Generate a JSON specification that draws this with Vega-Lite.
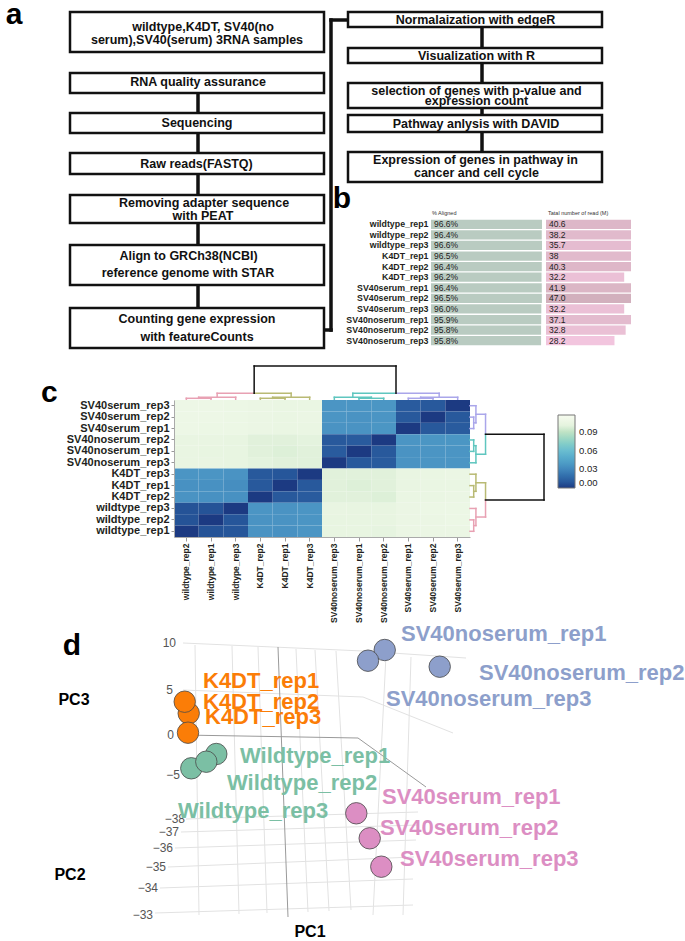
{
  "$schema": "https://vega.github.io/schema/vega-lite/v6.json",
  "padding": 0,
  "background": "white",
  "config": {
    "view": {"stroke": null},
    "font": "Liberation Sans",
    "text": {"font": "Liberation Sans"},
    "title": {"font": "Liberation Sans"},
    "axis": {"labelFont": "Liberation Sans"},
    "legend": {"labelFont": "Liberation Sans"}
  },
  "datasets": {
    "boxes": [
      {"x0": 67, "x1": 321, "y0": 12, "y1": 52},
      {"x0": 67, "x1": 321, "y0": 73, "y1": 93},
      {"x0": 67, "x1": 321, "y0": 113, "y1": 133},
      {"x0": 67, "x1": 321, "y0": 153, "y1": 174},
      {"x0": 67, "x1": 321, "y0": 195, "y1": 223},
      {"x0": 67, "x1": 321, "y0": 245, "y1": 285},
      {"x0": 67, "x1": 321, "y0": 308, "y1": 348},
      {"x0": 345, "x1": 599, "y0": 12, "y1": 27},
      {"x0": 345, "x1": 599, "y0": 48, "y1": 63},
      {"x0": 345, "x1": 599, "y0": 83, "y1": 108},
      {"x0": 345, "x1": 599, "y0": 115, "y1": 132},
      {"x0": 345, "x1": 599, "y0": 152, "y1": 182}
    ],
    "links": [
      {"x0": 195, "x1": 195, "y0": 93, "y1": 113},
      {"x0": 195, "x1": 195, "y0": 133, "y1": 153},
      {"x0": 195, "x1": 195, "y0": 174, "y1": 195},
      {"x0": 195, "x1": 195, "y0": 223, "y1": 245},
      {"x0": 195, "x1": 195, "y0": 285, "y1": 308},
      {"x0": 328, "x1": 328, "y0": 20, "y1": 330},
      {"x0": 321, "x1": 328, "y0": 330, "y1": 330},
      {"x0": 328, "x1": 345, "y0": 20, "y1": 20},
      {"x0": 479, "x1": 479, "y0": 27, "y1": 48},
      {"x0": 479, "x1": 479, "y0": 63, "y1": 83},
      {"x0": 479, "x1": 479, "y0": 108, "y1": 115},
      {"x0": 479, "x1": 479, "y0": 132, "y1": 152}
    ],
    "ftext": [
      {"cx": 200, "cy": 27, "t": "wildtype,K4DT, SV40(no"},
      {"cx": 194, "cy": 39.5, "t": "serum),SV40(serum) 3RNA samples"},
      {"cx": 195, "cy": 82, "t": "RNA quality assurance"},
      {"cx": 194, "cy": 123, "t": "Sequencing"},
      {"cx": 193.5, "cy": 163.5, "t": "Raw reads(FASTQ)"},
      {"cx": 201, "cy": 202.5, "t": "Removing adapter sequence"},
      {"cx": 200, "cy": 215.5, "t": "with PEAT"},
      {"cx": 185.5, "cy": 256, "t": "Align to GRCh38(NCBI)"},
      {"cx": 185, "cy": 272.5, "t": "reference genome with STAR"},
      {"cx": 194, "cy": 318.5, "t": "Counting gene expression"},
      {"cx": 194, "cy": 337, "t": "with featureCounts"},
      {"cx": 472.5, "cy": 20, "t": "Normalaization with edgeR"},
      {"cx": 473.5, "cy": 55.5, "t": "Visualization with R"},
      {"cx": 473.5, "cy": 90.5, "t": "selection of  genes with p-value and"},
      {"cx": 473.5, "cy": 100.5, "t": "expression count"},
      {"cx": 473, "cy": 124, "t": "Pathway anlysis with DAVID"},
      {"cx": 472.5, "cy": 160, "t": "Expression of genes in pathway in"},
      {"cx": 473.5, "cy": 172.5, "t": "cancer and cell cycle"}
    ],
    "letters": [
      {"t": "a", "cx": 11, "cy": 24},
      {"t": "b", "cx": 339, "cy": 208}
    ],
    "tbl": [
      {"s": "wildtype_rep1", "al": 0.966, "rd": 40.6, "rdl": "40.6"},
      {"s": "wildtype_rep2", "al": 0.964, "rd": 38.2, "rdl": "38.2"},
      {"s": "wildtype_rep3", "al": 0.966, "rd": 35.7, "rdl": "35.7"},
      {"s": "K4DT_rep1", "al": 0.965, "rd": 38, "rdl": "38"},
      {"s": "K4DT_rep2", "al": 0.964, "rd": 40.3, "rdl": "40.3"},
      {"s": "K4DT_rep3", "al": 0.962, "rd": 32.2, "rdl": "32.2"},
      {"s": "SV40serum_rep1", "al": 0.964, "rd": 41.9, "rdl": "41.9"},
      {"s": "SV40serum_rep2", "al": 0.965, "rd": 47.0, "rdl": "47.0"},
      {"s": "SV40serum_rep3", "al": 0.960, "rd": 32.2, "rdl": "32.2"},
      {"s": "SV40noserum_rep1", "al": 0.959, "rd": 37.1, "rdl": "37.1"},
      {"s": "SV40noserum_rep2", "al": 0.958, "rd": 32.8, "rdl": "32.8"},
      {"s": "SV40noserum_rep3", "al": 0.958, "rd": 28.2, "rdl": "28.2"}
    ],
    "heat": [
      {"r": "SV40serum_rep3", "c": "wildtype_rep2", "v": 0.108},
      {"r": "SV40serum_rep3", "c": "wildtype_rep1", "v": 0.108},
      {"r": "SV40serum_rep3", "c": "wildtype_rep3", "v": 0.107},
      {"r": "SV40serum_rep3", "c": "K4DT_rep2", "v": 0.106},
      {"r": "SV40serum_rep3", "c": "K4DT_rep1", "v": 0.105},
      {"r": "SV40serum_rep3", "c": "K4DT_rep3", "v": 0.105},
      {"r": "SV40serum_rep3", "c": "SV40noserum_rep3", "v": 0.036},
      {"r": "SV40serum_rep3", "c": "SV40noserum_rep1", "v": 0.036},
      {"r": "SV40serum_rep3", "c": "SV40noserum_rep2", "v": 0.037},
      {"r": "SV40serum_rep3", "c": "SV40serum_rep1", "v": 0.011},
      {"r": "SV40serum_rep3", "c": "SV40serum_rep2", "v": 0.010},
      {"r": "SV40serum_rep3", "c": "SV40serum_rep3", "v": 0.0},
      {"r": "SV40serum_rep2", "c": "wildtype_rep2", "v": 0.108},
      {"r": "SV40serum_rep2", "c": "wildtype_rep1", "v": 0.108},
      {"r": "SV40serum_rep2", "c": "wildtype_rep3", "v": 0.107},
      {"r": "SV40serum_rep2", "c": "K4DT_rep2", "v": 0.106},
      {"r": "SV40serum_rep2", "c": "K4DT_rep1", "v": 0.105},
      {"r": "SV40serum_rep2", "c": "K4DT_rep3", "v": 0.106},
      {"r": "SV40serum_rep2", "c": "SV40noserum_rep3", "v": 0.036},
      {"r": "SV40serum_rep2", "c": "SV40noserum_rep1", "v": 0.035},
      {"r": "SV40serum_rep2", "c": "SV40noserum_rep2", "v": 0.036},
      {"r": "SV40serum_rep2", "c": "SV40serum_rep1", "v": 0.010},
      {"r": "SV40serum_rep2", "c": "SV40serum_rep2", "v": 0.0},
      {"r": "SV40serum_rep2", "c": "SV40serum_rep3", "v": 0.010},
      {"r": "SV40serum_rep1", "c": "wildtype_rep2", "v": 0.108},
      {"r": "SV40serum_rep1", "c": "wildtype_rep1", "v": 0.107},
      {"r": "SV40serum_rep1", "c": "wildtype_rep3", "v": 0.107},
      {"r": "SV40serum_rep1", "c": "K4DT_rep2", "v": 0.106},
      {"r": "SV40serum_rep1", "c": "K4DT_rep1", "v": 0.105},
      {"r": "SV40serum_rep1", "c": "K4DT_rep3", "v": 0.105},
      {"r": "SV40serum_rep1", "c": "SV40noserum_rep3", "v": 0.035},
      {"r": "SV40serum_rep1", "c": "SV40noserum_rep1", "v": 0.035},
      {"r": "SV40serum_rep1", "c": "SV40noserum_rep2", "v": 0.037},
      {"r": "SV40serum_rep1", "c": "SV40serum_rep1", "v": 0.0},
      {"r": "SV40serum_rep1", "c": "SV40serum_rep2", "v": 0.010},
      {"r": "SV40serum_rep1", "c": "SV40serum_rep3", "v": 0.011},
      {"r": "SV40noserum_rep2", "c": "wildtype_rep2", "v": 0.104},
      {"r": "SV40noserum_rep2", "c": "wildtype_rep1", "v": 0.104},
      {"r": "SV40noserum_rep2", "c": "wildtype_rep3", "v": 0.103},
      {"r": "SV40noserum_rep2", "c": "K4DT_rep2", "v": 0.099},
      {"r": "SV40noserum_rep2", "c": "K4DT_rep1", "v": 0.099},
      {"r": "SV40noserum_rep2", "c": "K4DT_rep3", "v": 0.100},
      {"r": "SV40noserum_rep2", "c": "SV40noserum_rep3", "v": 0.010},
      {"r": "SV40noserum_rep2", "c": "SV40noserum_rep1", "v": 0.011},
      {"r": "SV40noserum_rep2", "c": "SV40noserum_rep2", "v": 0.0},
      {"r": "SV40noserum_rep2", "c": "SV40serum_rep1", "v": 0.036},
      {"r": "SV40noserum_rep2", "c": "SV40serum_rep2", "v": 0.037},
      {"r": "SV40noserum_rep2", "c": "SV40serum_rep3", "v": 0.037},
      {"r": "SV40noserum_rep1", "c": "wildtype_rep2", "v": 0.104},
      {"r": "SV40noserum_rep1", "c": "wildtype_rep1", "v": 0.103},
      {"r": "SV40noserum_rep1", "c": "wildtype_rep3", "v": 0.103},
      {"r": "SV40noserum_rep1", "c": "K4DT_rep2", "v": 0.099},
      {"r": "SV40noserum_rep1", "c": "K4DT_rep1", "v": 0.098},
      {"r": "SV40noserum_rep1", "c": "K4DT_rep3", "v": 0.099},
      {"r": "SV40noserum_rep1", "c": "SV40noserum_rep3", "v": 0.011},
      {"r": "SV40noserum_rep1", "c": "SV40noserum_rep1", "v": 0.0},
      {"r": "SV40noserum_rep1", "c": "SV40noserum_rep2", "v": 0.010},
      {"r": "SV40noserum_rep1", "c": "SV40serum_rep1", "v": 0.035},
      {"r": "SV40noserum_rep1", "c": "SV40serum_rep2", "v": 0.036},
      {"r": "SV40noserum_rep1", "c": "SV40serum_rep3", "v": 0.036},
      {"r": "SV40noserum_rep3", "c": "wildtype_rep2", "v": 0.104},
      {"r": "SV40noserum_rep3", "c": "wildtype_rep1", "v": 0.104},
      {"r": "SV40noserum_rep3", "c": "wildtype_rep3", "v": 0.103},
      {"r": "SV40noserum_rep3", "c": "K4DT_rep2", "v": 0.100},
      {"r": "SV40noserum_rep3", "c": "K4DT_rep1", "v": 0.099},
      {"r": "SV40noserum_rep3", "c": "K4DT_rep3", "v": 0.099},
      {"r": "SV40noserum_rep3", "c": "SV40noserum_rep3", "v": 0.0},
      {"r": "SV40noserum_rep3", "c": "SV40noserum_rep1", "v": 0.010},
      {"r": "SV40noserum_rep3", "c": "SV40noserum_rep2", "v": 0.011},
      {"r": "SV40noserum_rep3", "c": "SV40serum_rep1", "v": 0.035},
      {"r": "SV40noserum_rep3", "c": "SV40serum_rep2", "v": 0.036},
      {"r": "SV40noserum_rep3", "c": "SV40serum_rep3", "v": 0.036},
      {"r": "K4DT_rep3", "c": "wildtype_rep2", "v": 0.036},
      {"r": "K4DT_rep3", "c": "wildtype_rep1", "v": 0.036},
      {"r": "K4DT_rep3", "c": "wildtype_rep3", "v": 0.035},
      {"r": "K4DT_rep3", "c": "K4DT_rep2", "v": 0.010},
      {"r": "K4DT_rep3", "c": "K4DT_rep1", "v": 0.009},
      {"r": "K4DT_rep3", "c": "K4DT_rep3", "v": 0.0},
      {"r": "K4DT_rep3", "c": "SV40noserum_rep3", "v": 0.099},
      {"r": "K4DT_rep3", "c": "SV40noserum_rep1", "v": 0.099},
      {"r": "K4DT_rep3", "c": "SV40noserum_rep2", "v": 0.099},
      {"r": "K4DT_rep3", "c": "SV40serum_rep1", "v": 0.104},
      {"r": "K4DT_rep3", "c": "SV40serum_rep2", "v": 0.105},
      {"r": "K4DT_rep3", "c": "SV40serum_rep3", "v": 0.106},
      {"r": "K4DT_rep1", "c": "wildtype_rep2", "v": 0.034},
      {"r": "K4DT_rep1", "c": "wildtype_rep1", "v": 0.034},
      {"r": "K4DT_rep1", "c": "wildtype_rep3", "v": 0.033},
      {"r": "K4DT_rep1", "c": "K4DT_rep2", "v": 0.010},
      {"r": "K4DT_rep1", "c": "K4DT_rep1", "v": 0.0},
      {"r": "K4DT_rep1", "c": "K4DT_rep3", "v": 0.010},
      {"r": "K4DT_rep1", "c": "SV40noserum_rep3", "v": 0.099},
      {"r": "K4DT_rep1", "c": "SV40noserum_rep1", "v": 0.098},
      {"r": "K4DT_rep1", "c": "SV40noserum_rep2", "v": 0.099},
      {"r": "K4DT_rep1", "c": "SV40serum_rep1", "v": 0.104},
      {"r": "K4DT_rep1", "c": "SV40serum_rep2", "v": 0.105},
      {"r": "K4DT_rep1", "c": "SV40serum_rep3", "v": 0.105},
      {"r": "K4DT_rep2", "c": "wildtype_rep2", "v": 0.035},
      {"r": "K4DT_rep2", "c": "wildtype_rep1", "v": 0.034},
      {"r": "K4DT_rep2", "c": "wildtype_rep3", "v": 0.034},
      {"r": "K4DT_rep2", "c": "K4DT_rep2", "v": 0.0},
      {"r": "K4DT_rep2", "c": "K4DT_rep1", "v": 0.010},
      {"r": "K4DT_rep2", "c": "K4DT_rep3", "v": 0.011},
      {"r": "K4DT_rep2", "c": "SV40noserum_rep3", "v": 0.099},
      {"r": "K4DT_rep2", "c": "SV40noserum_rep1", "v": 0.099},
      {"r": "K4DT_rep2", "c": "SV40noserum_rep2", "v": 0.098},
      {"r": "K4DT_rep2", "c": "SV40serum_rep1", "v": 0.105},
      {"r": "K4DT_rep2", "c": "SV40serum_rep2", "v": 0.105},
      {"r": "K4DT_rep2", "c": "SV40serum_rep3", "v": 0.106},
      {"r": "wildtype_rep3", "c": "wildtype_rep2", "v": 0.008},
      {"r": "wildtype_rep3", "c": "wildtype_rep1", "v": 0.008},
      {"r": "wildtype_rep3", "c": "wildtype_rep3", "v": 0.0},
      {"r": "wildtype_rep3", "c": "K4DT_rep2", "v": 0.036},
      {"r": "wildtype_rep3", "c": "K4DT_rep1", "v": 0.035},
      {"r": "wildtype_rep3", "c": "K4DT_rep3", "v": 0.036},
      {"r": "wildtype_rep3", "c": "SV40noserum_rep3", "v": 0.104},
      {"r": "wildtype_rep3", "c": "SV40noserum_rep1", "v": 0.103},
      {"r": "wildtype_rep3", "c": "SV40noserum_rep2", "v": 0.103},
      {"r": "wildtype_rep3", "c": "SV40serum_rep1", "v": 0.106},
      {"r": "wildtype_rep3", "c": "SV40serum_rep2", "v": 0.107},
      {"r": "wildtype_rep3", "c": "SV40serum_rep3", "v": 0.107},
      {"r": "wildtype_rep2", "c": "wildtype_rep2", "v": 0.008},
      {"r": "wildtype_rep2", "c": "wildtype_rep1", "v": 0.0},
      {"r": "wildtype_rep2", "c": "wildtype_rep3", "v": 0.009},
      {"r": "wildtype_rep2", "c": "K4DT_rep2", "v": 0.035},
      {"r": "wildtype_rep2", "c": "K4DT_rep1", "v": 0.035},
      {"r": "wildtype_rep2", "c": "K4DT_rep3", "v": 0.036},
      {"r": "wildtype_rep2", "c": "SV40noserum_rep3", "v": 0.103},
      {"r": "wildtype_rep2", "c": "SV40noserum_rep1", "v": 0.103},
      {"r": "wildtype_rep2", "c": "SV40noserum_rep2", "v": 0.103},
      {"r": "wildtype_rep2", "c": "SV40serum_rep1", "v": 0.106},
      {"r": "wildtype_rep2", "c": "SV40serum_rep2", "v": 0.106},
      {"r": "wildtype_rep2", "c": "SV40serum_rep3", "v": 0.107},
      {"r": "wildtype_rep1", "c": "wildtype_rep2", "v": 0.0},
      {"r": "wildtype_rep1", "c": "wildtype_rep1", "v": 0.008},
      {"r": "wildtype_rep1", "c": "wildtype_rep3", "v": 0.009},
      {"r": "wildtype_rep1", "c": "K4DT_rep2", "v": 0.035},
      {"r": "wildtype_rep1", "c": "K4DT_rep1", "v": 0.034},
      {"r": "wildtype_rep1", "c": "K4DT_rep3", "v": 0.036},
      {"r": "wildtype_rep1", "c": "SV40noserum_rep3", "v": 0.103},
      {"r": "wildtype_rep1", "c": "SV40noserum_rep1", "v": 0.103},
      {"r": "wildtype_rep1", "c": "SV40noserum_rep2", "v": 0.102},
      {"r": "wildtype_rep1", "c": "SV40serum_rep1", "v": 0.106},
      {"r": "wildtype_rep1", "c": "SV40serum_rep2", "v": 0.106},
      {"r": "wildtype_rep1", "c": "SV40serum_rep3", "v": 0.106}
    ],
    "dtop": [
      {"p": 0.5, "p2": 0.5, "h": 0, "h2": 0.005, "g": "W"},
      {"p": 1.5, "p2": 1.5, "h": 0, "h2": 0.005, "g": "W"},
      {"p": 0.5, "p2": 1.5, "h": 0.005, "h2": 0.005, "g": "W"},
      {"p": 1.0, "p2": 1.0, "h": 0.005, "h2": 0.008, "g": "W"},
      {"p": 2.5, "p2": 2.5, "h": 0, "h2": 0.008, "g": "W"},
      {"p": 1.0, "p2": 2.5, "h": 0.008, "h2": 0.008, "g": "W"},
      {"p": 1.75, "p2": 1.75, "h": 0.008, "h2": 0.02, "g": "W"},
      {"p": 1.75, "p2": 3.25, "h": 0.02, "h2": 0.02, "g": "W"},
      {"p": 3.5, "p2": 3.5, "h": 0, "h2": 0.005, "g": "K"},
      {"p": 4.5, "p2": 4.5, "h": 0, "h2": 0.005, "g": "K"},
      {"p": 3.5, "p2": 4.5, "h": 0.005, "h2": 0.005, "g": "K"},
      {"p": 4.0, "p2": 4.0, "h": 0.005, "h2": 0.008, "g": "K"},
      {"p": 5.5, "p2": 5.5, "h": 0, "h2": 0.008, "g": "K"},
      {"p": 4.0, "p2": 5.5, "h": 0.008, "h2": 0.008, "g": "K"},
      {"p": 4.75, "p2": 4.75, "h": 0.008, "h2": 0.02, "g": "K"},
      {"p": 3.25, "p2": 4.75, "h": 0.02, "h2": 0.02, "g": "K"},
      {"p": 7.5, "p2": 7.5, "h": 0, "h2": 0.005, "g": "N"},
      {"p": 8.5, "p2": 8.5, "h": 0, "h2": 0.005, "g": "N"},
      {"p": 7.5, "p2": 8.5, "h": 0.005, "h2": 0.005, "g": "N"},
      {"p": 8.0, "p2": 8.0, "h": 0.005, "h2": 0.008, "g": "N"},
      {"p": 6.5, "p2": 6.5, "h": 0, "h2": 0.008, "g": "N"},
      {"p": 6.5, "p2": 8.0, "h": 0.008, "h2": 0.008, "g": "N"},
      {"p": 7.25, "p2": 7.25, "h": 0.008, "h2": 0.02, "g": "N"},
      {"p": 7.25, "p2": 9.0, "h": 0.02, "h2": 0.02, "g": "N"},
      {"p": 9.5, "p2": 9.5, "h": 0, "h2": 0.005, "g": "S"},
      {"p": 10.5, "p2": 10.5, "h": 0, "h2": 0.005, "g": "S"},
      {"p": 9.5, "p2": 10.5, "h": 0.005, "h2": 0.005, "g": "S"},
      {"p": 10.0, "p2": 10.0, "h": 0.005, "h2": 0.008, "g": "S"},
      {"p": 11.5, "p2": 11.5, "h": 0, "h2": 0.008, "g": "S"},
      {"p": 10.0, "p2": 11.5, "h": 0.008, "h2": 0.008, "g": "S"},
      {"p": 10.75, "p2": 10.75, "h": 0.008, "h2": 0.02, "g": "S"},
      {"p": 9.0, "p2": 10.75, "h": 0.02, "h2": 0.02, "g": "S"},
      {"p": 3.25, "p2": 3.25, "h": 0.02, "h2": 0.1, "g": "R"},
      {"p": 9.0, "p2": 9.0, "h": 0.02, "h2": 0.1, "g": "R"},
      {"p": 3.25, "p2": 9.0, "h": 0.1, "h2": 0.1, "g": "R"}
    ],
    "dright": [
      {"p": 1.5, "p2": 1.5, "h": 0, "h2": 0.005, "g": "S"},
      {"p": 2.5, "p2": 2.5, "h": 0, "h2": 0.005, "g": "S"},
      {"p": 1.5, "p2": 2.5, "h": 0.005, "h2": 0.005, "g": "S"},
      {"p": 2.0, "p2": 2.0, "h": 0.005, "h2": 0.008, "g": "S"},
      {"p": 0.5, "p2": 0.5, "h": 0, "h2": 0.008, "g": "S"},
      {"p": 0.5, "p2": 2.0, "h": 0.008, "h2": 0.008, "g": "S"},
      {"p": 1.25, "p2": 1.25, "h": 0.008, "h2": 0.021, "g": "S"},
      {"p": 1.25, "p2": 3.0, "h": 0.021, "h2": 0.021, "g": "S"},
      {"p": 3.5, "p2": 3.5, "h": 0, "h2": 0.005, "g": "N"},
      {"p": 4.5, "p2": 4.5, "h": 0, "h2": 0.005, "g": "N"},
      {"p": 3.5, "p2": 4.5, "h": 0.005, "h2": 0.005, "g": "N"},
      {"p": 4.0, "p2": 4.0, "h": 0.005, "h2": 0.008, "g": "N"},
      {"p": 5.5, "p2": 5.5, "h": 0, "h2": 0.008, "g": "N"},
      {"p": 4.0, "p2": 5.5, "h": 0.008, "h2": 0.008, "g": "N"},
      {"p": 4.75, "p2": 4.75, "h": 0.008, "h2": 0.021, "g": "N"},
      {"p": 3.0, "p2": 4.75, "h": 0.021, "h2": 0.021, "g": "N"},
      {"p": 7.5, "p2": 7.5, "h": 0, "h2": 0.005, "g": "K"},
      {"p": 8.5, "p2": 8.5, "h": 0, "h2": 0.005, "g": "K"},
      {"p": 7.5, "p2": 8.5, "h": 0.005, "h2": 0.005, "g": "K"},
      {"p": 8.0, "p2": 8.0, "h": 0.005, "h2": 0.008, "g": "K"},
      {"p": 6.5, "p2": 6.5, "h": 0, "h2": 0.008, "g": "K"},
      {"p": 6.5, "p2": 8.0, "h": 0.008, "h2": 0.008, "g": "K"},
      {"p": 7.25, "p2": 7.25, "h": 0.008, "h2": 0.021, "g": "K"},
      {"p": 7.25, "p2": 8.75, "h": 0.021, "h2": 0.021, "g": "K"},
      {"p": 10.5, "p2": 10.5, "h": 0, "h2": 0.005, "g": "W"},
      {"p": 11.5, "p2": 11.5, "h": 0, "h2": 0.005, "g": "W"},
      {"p": 10.5, "p2": 11.5, "h": 0.005, "h2": 0.005, "g": "W"},
      {"p": 11.0, "p2": 11.0, "h": 0.005, "h2": 0.008, "g": "W"},
      {"p": 9.5, "p2": 9.5, "h": 0, "h2": 0.008, "g": "W"},
      {"p": 9.5, "p2": 11.0, "h": 0.008, "h2": 0.008, "g": "W"},
      {"p": 10.25, "p2": 10.25, "h": 0.008, "h2": 0.021, "g": "W"},
      {"p": 8.75, "p2": 10.25, "h": 0.021, "h2": 0.021, "g": "W"},
      {"p": 3.0, "p2": 3.0, "h": 0.021, "h2": 0.1, "g": "R"},
      {"p": 8.75, "p2": 8.75, "h": 0.021, "h2": 0.1, "g": "R"},
      {"p": 3.0, "p2": 8.75, "h": 0.1, "h2": 0.1, "g": "R"}
    ],
    "pca": [
      {"n": "K4DT_rep2", "g": "K4DT", "sx": 185.7, "sy": 713.3, "lx": 200, "ly": 709},
      {"n": "K4DT_rep1", "g": "K4DT", "sx": 181.7, "sy": 701.7, "lx": 200, "ly": 688},
      {"n": "K4DT_rep3", "g": "K4DT", "sx": 185, "sy": 732.7, "lx": 202, "ly": 724},
      {"n": "Wildtype_rep1", "g": "Wildtype", "sx": 213.3, "sy": 754, "lx": 237, "ly": 763},
      {"n": "Wildtype_rep3", "g": "Wildtype", "sx": 188.3, "sy": 768.3, "lx": 175, "ly": 818},
      {"n": "Wildtype_rep2", "g": "Wildtype", "sx": 203.3, "sy": 761.7, "lx": 224, "ly": 790},
      {"n": "SV40noserum_rep1", "g": "SV40noserum", "sx": 381.7, "sy": 650, "lx": 398, "ly": 641},
      {"n": "SV40noserum_rep2", "g": "SV40noserum", "sx": 436.7, "sy": 666.7, "lx": 476, "ly": 680},
      {"n": "SV40noserum_rep3", "g": "SV40noserum", "sx": 365, "sy": 660.7, "lx": 383, "ly": 706},
      {"n": "SV40serum_rep1", "g": "SV40serum", "sx": 353.3, "sy": 813.3, "lx": 379, "ly": 804},
      {"n": "SV40serum_rep2", "g": "SV40serum", "sx": 366.7, "sy": 838.3, "lx": 377, "ly": 835},
      {"n": "SV40serum_rep3", "g": "SV40serum", "sx": 378.3, "sy": 866.7, "lx": 397, "ly": 866}
    ],
    "gridLight": [
      {"x0": 180, "y0": 643, "x1": 360, "y1": 651},
      {"x0": 360, "y0": 651, "x1": 463, "y1": 658},
      {"x0": 180, "y0": 690, "x1": 360, "y1": 697},
      {"x0": 360, "y0": 697, "x1": 450, "y1": 733},
      {"x0": 192, "y0": 645, "x1": 196, "y1": 915},
      {"x0": 229, "y0": 646, "x1": 236, "y1": 914},
      {"x0": 255, "y0": 647, "x1": 264, "y1": 913},
      {"x0": 293, "y0": 649, "x1": 305, "y1": 912},
      {"x0": 312, "y0": 650, "x1": 326, "y1": 911},
      {"x0": 333, "y0": 651, "x1": 348, "y1": 910},
      {"x0": 383, "y0": 655, "x1": 370, "y1": 915},
      {"x0": 408, "y0": 657, "x1": 400, "y1": 915},
      {"x0": 183, "y0": 819, "x1": 415, "y1": 812},
      {"x0": 178, "y0": 832, "x1": 415, "y1": 825},
      {"x0": 172, "y0": 848, "x1": 413, "y1": 840},
      {"x0": 165, "y0": 867, "x1": 411, "y1": 857},
      {"x0": 157, "y0": 888, "x1": 410, "y1": 879},
      {"x0": 152, "y0": 913, "x1": 410, "y1": 905}
    ],
    "gridDark": [
      {"x0": 180, "y0": 735, "x1": 355, "y1": 738},
      {"x0": 355, "y0": 738, "x1": 423, "y1": 787},
      {"x0": 275, "y0": 647, "x1": 285, "y1": 917}
    ],
    "ticks3d": [
      {"t": "10", "sx": 173, "sy": 643},
      {"t": "5", "sx": 170, "sy": 690},
      {"t": "0", "sx": 171, "sy": 735},
      {"t": "−5", "sx": 177, "sy": 775},
      {"t": "−38", "sx": 182, "sy": 819},
      {"t": "−37", "sx": 176, "sy": 832},
      {"t": "−36", "sx": 170, "sy": 848},
      {"t": "−35", "sx": 163, "sy": 867},
      {"t": "−34", "sx": 155, "sy": 888},
      {"t": "−33", "sx": 150, "sy": 915}
    ],
    "axes3d": [
      {"t": "PC3", "sx": 71, "sy": 700},
      {"t": "PC2", "sx": 67, "sy": 875},
      {"t": "PC1", "sx": 307, "sy": 932}
    ]
  },
  "spacing": 0,
  "bounds": "flush",
  "resolve": {"scale": {"color": "independent"}, "legend": {"color": "independent"}},
  "vconcat": [
    {
      "width": 685,
      "height": 219,
      "layer": [
        {
          "data": {"name": "links"},
          "mark": {"type": "rule", "stroke": "#111111", "strokeWidth": 3.5, "strokeCap": "square"},
          "encoding": {
            "x": {"field": "x0", "type": "quantitative", "scale": {"domain": [0, 685], "nice": false, "zero": false}, "axis": null},
            "x2": {"field": "x1"},
            "y": {"field": "y0", "type": "quantitative", "scale": {"domain": [0, 219], "nice": false, "zero": false, "reverse": true}, "axis": null},
            "y2": {"field": "y1"}
          }
        },
        {
          "data": {"name": "boxes"},
          "mark": {"type": "rect", "fill": "white", "stroke": "#111111", "strokeWidth": 2.5},
          "encoding": {
            "x": {"field": "x0", "type": "quantitative", "scale": {"domain": [0, 685], "nice": false, "zero": false}, "axis": null},
            "x2": {"field": "x1"},
            "y": {"field": "y0", "type": "quantitative", "scale": {"domain": [0, 219], "nice": false, "zero": false, "reverse": true}, "axis": null},
            "y2": {"field": "y1"}
          }
        },
        {
          "data": {"name": "ftext"},
          "mark": {"type": "text", "fontSize": 12.5, "fontWeight": "bold", "fill": "#111111", "align": "center", "baseline": "middle"},
          "encoding": {
            "x": {"field": "cx", "type": "quantitative", "scale": {"domain": [0, 685], "nice": false, "zero": false}, "axis": null},
            "y": {"field": "cy", "type": "quantitative", "scale": {"domain": [0, 219], "nice": false, "zero": false, "reverse": true}, "axis": null},
            "text": {"field": "t"}
          }
        },
        {
          "data": {"name": "letters"},
          "mark": {"type": "text", "fontSize": 30, "fontWeight": "bold", "fill": "#000000", "align": "center", "baseline": "alphabetic"},
          "encoding": {
            "x": {"field": "cx", "type": "quantitative", "scale": {"domain": [0, 685], "nice": false, "zero": false}, "axis": null},
            "y": {"field": "cy", "type": "quantitative", "scale": {"domain": [0, 219], "nice": false, "zero": false, "reverse": true}, "axis": null},
            "text": {"field": "t"}
          }
        }
      ]
    },
    {
      "spacing": 4,
      "bounds": "flush",
      "resolve": {"scale": {"color": "independent"}, "legend": {"color": "independent"}},
      "hconcat": [
        {
          "width": 424,
          "height": 127,
          "data": {"values": [{}]},
          "mark": {"type": "point", "opacity": 0},
          "encoding": {}
        },
        {
          "width": 111,
          "height": 127,
          "data": {"name": "tbl"},
          "title": {"text": "% Aligned", "anchor": "start", "orient": "top", "frame": "group", "offset": 3, "fontSize": 5.5, "fontWeight": "normal", "color": "#333333", "dx": 1},
          "encoding": {
            "y": {"field": "s", "type": "nominal", "sort": null, "scale": {"paddingInner": 0.12, "paddingOuter": 0.06}, "axis": {"title": null, "ticks": false, "domain": false, "labelFontSize": 8.8, "labelFontWeight": "bold", "labelColor": "#231f20", "labelPadding": 3}}
          },
          "layer": [
            {
              "mark": {"type": "bar", "color": "#b9cbc1"},
              "encoding": {"x": {"field": "al", "type": "quantitative", "scale": {"domain": [0, 0.966], "nice": false}, "axis": null}}
            },
            {
              "mark": {"type": "text", "align": "left", "baseline": "middle", "dx": 3, "fontSize": 8.5, "color": "#222222"},
              "encoding": {"x": {"datum": 0, "type": "quantitative"}, "text": {"field": "al", "type": "quantitative", "format": ".1%"}}
            }
          ]
        },
        {
          "width": 85,
          "height": 127,
          "data": {"name": "tbl"},
          "title": {"text": "Tatal number of read (M)", "anchor": "start", "orient": "top", "frame": "group", "offset": 3, "fontSize": 5.5, "fontWeight": "normal", "color": "#333333", "dx": 2},
          "encoding": {
            "y": {"field": "s", "type": "nominal", "sort": null, "scale": {"paddingInner": 0.12, "paddingOuter": 0.06}, "axis": null}
          },
          "layer": [
            {
              "mark": {"type": "bar"},
              "encoding": {
                "x": {"field": "rd", "type": "quantitative", "scale": {"domain": [0, 35], "clamp": true, "nice": false}, "axis": null},
                "color": {"field": "rd", "type": "quantitative", "scale": {"domain": [28, 47], "range": ["#f2c5de", "#d2b0bd"]}, "legend": null}
              }
            },
            {
              "mark": {"type": "text", "align": "left", "baseline": "middle", "dx": 3, "fontSize": 8.5, "color": "#222222"},
              "encoding": {"x": {"datum": 0, "type": "quantitative"}, "text": {"field": "rdl"}}
            }
          ]
        }
      ]
    },
    {
      "width": 1,
      "height": 133,
      "data": {"values": [{}]},
      "mark": {"type": "point", "opacity": 0},
      "encoding": {}
    },
    {
      "spacing": 0,
      "bounds": "flush",
      "resolve": {"scale": {"color": "independent"}, "legend": {"color": "independent"}},
      "hconcat": [
        {
          "width": 171,
          "height": 48,
          "title": {"text": "c", "anchor": "start", "orient": "bottom", "frame": "group", "offset": 2, "baseline": "alphabetic", "fontSize": 30, "fontWeight": "bold", "color": "#000000", "dx": 38},
          "data": {"values": [{}]},
          "mark": {"type": "point", "opacity": 0},
          "encoding": {}
        },
        {
          "width": 296,
          "height": 48,
          "data": {"name": "dtop"},
          "mark": {"type": "rule", "strokeWidth": 1.5, "strokeCap": "square"},
          "encoding": {
            "x": {"field": "p", "type": "quantitative", "scale": {"domain": [0, 12], "nice": false, "zero": false}, "axis": null},
            "x2": {"field": "p2"},
            "y": {"field": "h", "type": "quantitative", "scale": {"domain": [0, 0.141], "nice": false}, "axis": null},
            "y2": {"field": "h2"},
            "color": {"field": "g", "type": "nominal", "scale": {"domain": ["W", "K", "N", "S", "R"], "range": ["#e8a1b3", "#b9ba74", "#5fc6bf", "#aaa6ea", "#111111"]}, "legend": null}
          }
        }
      ]
    },
    {
      "width": 1,
      "height": 48,
      "data": {"values": [{}]},
      "mark": {"type": "point", "opacity": 0},
      "encoding": {}
    },
    {
      "spacing": 0,
      "bounds": "flush",
      "resolve": {"scale": {"color": "independent"}, "legend": {"color": "independent"}},
      "hconcat": [
        {
          "width": 171,
          "height": 137,
          "data": {"values": [{}]},
          "mark": {"type": "point", "opacity": 0},
          "encoding": {}
        },
        {
          "width": 296,
          "height": 137,
          "data": {"name": "heat"},
          "mark": {"type": "rect"},
          "encoding": {
            "x": {
              "field": "c", "type": "nominal",
              "scale": {"domain": ["wildtype_rep2", "wildtype_rep1", "wildtype_rep3", "K4DT_rep2", "K4DT_rep1", "K4DT_rep3", "SV40noserum_rep3", "SV40noserum_rep1", "SV40noserum_rep2", "SV40serum_rep1", "SV40serum_rep2", "SV40serum_rep3"], "paddingInner": 0, "paddingOuter": 0},
              "axis": {"title": null, "orient": "bottom", "labelAngle": 270, "labelFontSize": 8.5, "labelFontWeight": "bold", "labelColor": "#231f20", "tickSize": 4, "tickColor": "#999999", "domainColor": "#aaaaaa", "labelPadding": 2}
            },
            "y": {
              "field": "r", "type": "nominal",
              "scale": {"domain": ["SV40serum_rep3", "SV40serum_rep2", "SV40serum_rep1", "SV40noserum_rep2", "SV40noserum_rep1", "SV40noserum_rep3", "K4DT_rep3", "K4DT_rep1", "K4DT_rep2", "wildtype_rep3", "wildtype_rep2", "wildtype_rep1"], "paddingInner": 0, "paddingOuter": 0},
              "axis": {"title": null, "labelFontSize": 11, "labelFontWeight": "bold", "labelColor": "#231f20", "tickSize": 3, "tickColor": "#999999", "domainColor": "#aaaaaa", "labelPadding": 2}
            },
            "color": {
              "field": "v", "type": "quantitative",
              "scale": {"domain": [0, 0.01, 0.035, 0.06, 0.09, 0.1, 0.117], "range": ["#1c3a82", "#28599c", "#4a93c3", "#6abdd0", "#c0e3c5", "#e4f3de", "#f7fcf0"]},
              "legend": null
            }
          }
        },
        {
          "width": 74,
          "height": 137,
          "data": {"name": "dright"},
          "mark": {"type": "rule", "strokeWidth": 1.5, "strokeCap": "square"},
          "encoding": {
            "x": {"field": "h", "type": "quantitative", "scale": {"domain": [0, 0.1], "nice": false}, "axis": null},
            "x2": {"field": "h2"},
            "y": {"field": "p", "type": "quantitative", "scale": {"domain": [0, 12], "nice": false, "zero": false, "reverse": true}, "axis": null},
            "y2": {"field": "p2"},
            "color": {"field": "g", "type": "nominal", "scale": {"domain": ["W", "K", "N", "S", "R"], "range": ["#e8a1b3", "#b9ba74", "#5fc6bf", "#aaa6ea", "#111111"]}, "legend": null}
          }
        },
        {
          "width": 144,
          "height": 137,
          "data": {"name": "heat"},
          "mark": {"type": "point", "opacity": 0},
          "encoding": {
            "color": {
              "field": "v", "type": "quantitative",
              "scale": {"domain": [0, 0.01, 0.035, 0.06, 0.09, 0.1, 0.117], "range": ["#1c3a82", "#28599c", "#4a93c3", "#6abdd0", "#c0e3c5", "#e4f3de", "#f7fcf0"]},
              "legend": {"orient": "none", "legendX": 14, "legendY": 15, "direction": "vertical", "title": null, "gradientLength": 73, "gradientThickness": 17, "values": [0, 0.03, 0.06, 0.09], "format": ".2f", "labelFontSize": 9.5, "labelColor": "#222222", "gradientStrokeColor": "#777777", "gradientStrokeWidth": 1, "labelOffset": 4}
            }
          }
        }
      ]
    },
    {
      "width": 1,
      "height": 137,
      "data": {"values": [{}]},
      "mark": {"type": "point", "opacity": 0},
      "encoding": {}
    },
    {
      "width": 685,
      "height": 404,
      "layer": [
        {
          "data": {"name": "gridLight"},
          "mark": {"type": "rule", "stroke": "#e2e2e2", "strokeWidth": 1},
          "encoding": {
            "x": {"field": "x0", "type": "quantitative", "scale": {"domain": [0, 685], "nice": false, "zero": false}, "axis": null},
            "x2": {"field": "x1"},
            "y": {"field": "y0", "type": "quantitative", "scale": {"domain": [537, 941], "nice": false, "zero": false, "reverse": true}, "axis": null},
            "y2": {"field": "y1"}
          }
        },
        {
          "data": {"name": "gridDark"},
          "mark": {"type": "rule", "stroke": "#9a9a9a", "strokeWidth": 1},
          "encoding": {
            "x": {"field": "x0", "type": "quantitative", "scale": {"domain": [0, 685], "nice": false, "zero": false}, "axis": null},
            "x2": {"field": "x1"},
            "y": {"field": "y0", "type": "quantitative", "scale": {"domain": [537, 941], "nice": false, "zero": false, "reverse": true}, "axis": null},
            "y2": {"field": "y1"}
          }
        },
        {
          "data": {"name": "ticks3d"},
          "mark": {"type": "text", "align": "right", "baseline": "middle", "fontSize": 12, "fill": "#555555"},
          "encoding": {
            "x": {"field": "sx", "type": "quantitative", "scale": {"domain": [0, 685], "nice": false, "zero": false}, "axis": null},
            "y": {"field": "sy", "type": "quantitative", "scale": {"domain": [537, 941], "nice": false, "zero": false, "reverse": true}, "axis": null},
            "text": {"field": "t"}
          }
        },
        {
          "data": {"name": "axes3d"},
          "mark": {"type": "text", "align": "center", "baseline": "middle", "fontSize": 16, "fontWeight": "bold", "fill": "#000000"},
          "encoding": {
            "x": {"field": "sx", "type": "quantitative", "scale": {"domain": [0, 685], "nice": false, "zero": false}, "axis": null},
            "y": {"field": "sy", "type": "quantitative", "scale": {"domain": [537, 941], "nice": false, "zero": false, "reverse": true}, "axis": null},
            "text": {"field": "t"}
          }
        },
        {
          "data": {"values": [{"t": "d", "sx": 69, "sy": 655}]},
          "mark": {"type": "text", "align": "center", "baseline": "alphabetic", "fontSize": 30, "fontWeight": "bold", "fill": "#000000"},
          "encoding": {
            "x": {"field": "sx", "type": "quantitative", "scale": {"domain": [0, 685], "nice": false, "zero": false}, "axis": null},
            "y": {"field": "sy", "type": "quantitative", "scale": {"domain": [537, 941], "nice": false, "zero": false, "reverse": true}, "axis": null},
            "text": {"field": "t"}
          }
        },
        {
          "data": {"name": "pca"},
          "mark": {"type": "circle", "size": 460, "opacity": 1, "stroke": "#4a4a4a", "strokeWidth": 0.8},
          "encoding": {
            "x": {"field": "sx", "type": "quantitative", "scale": {"domain": [0, 685], "nice": false, "zero": false}, "axis": null},
            "y": {"field": "sy", "type": "quantitative", "scale": {"domain": [537, 941], "nice": false, "zero": false, "reverse": true}, "axis": null},
            "color": {"field": "g", "type": "nominal", "scale": {"domain": ["K4DT", "Wildtype", "SV40noserum", "SV40serum"], "range": ["#fb7d07", "#7bbfa4", "#8d9fcb", "#dc8ec3"]}, "legend": null}
          }
        },
        {
          "data": {"name": "pca"},
          "mark": {"type": "text", "align": "left", "baseline": "alphabetic", "fontSize": 22, "fontWeight": "bold"},
          "encoding": {
            "x": {"field": "lx", "type": "quantitative", "scale": {"domain": [0, 685], "nice": false, "zero": false}, "axis": null},
            "y": {"field": "ly", "type": "quantitative", "scale": {"domain": [537, 941], "nice": false, "zero": false, "reverse": true}, "axis": null},
            "text": {"field": "n"},
            "color": {"field": "g", "type": "nominal", "scale": {"domain": ["K4DT", "Wildtype", "SV40noserum", "SV40serum"], "range": ["#fb7d07", "#7bbfa4", "#8d9fcb", "#dc8ec3"]}, "legend": null}
          }
        }
      ]
    }
  ]
}
